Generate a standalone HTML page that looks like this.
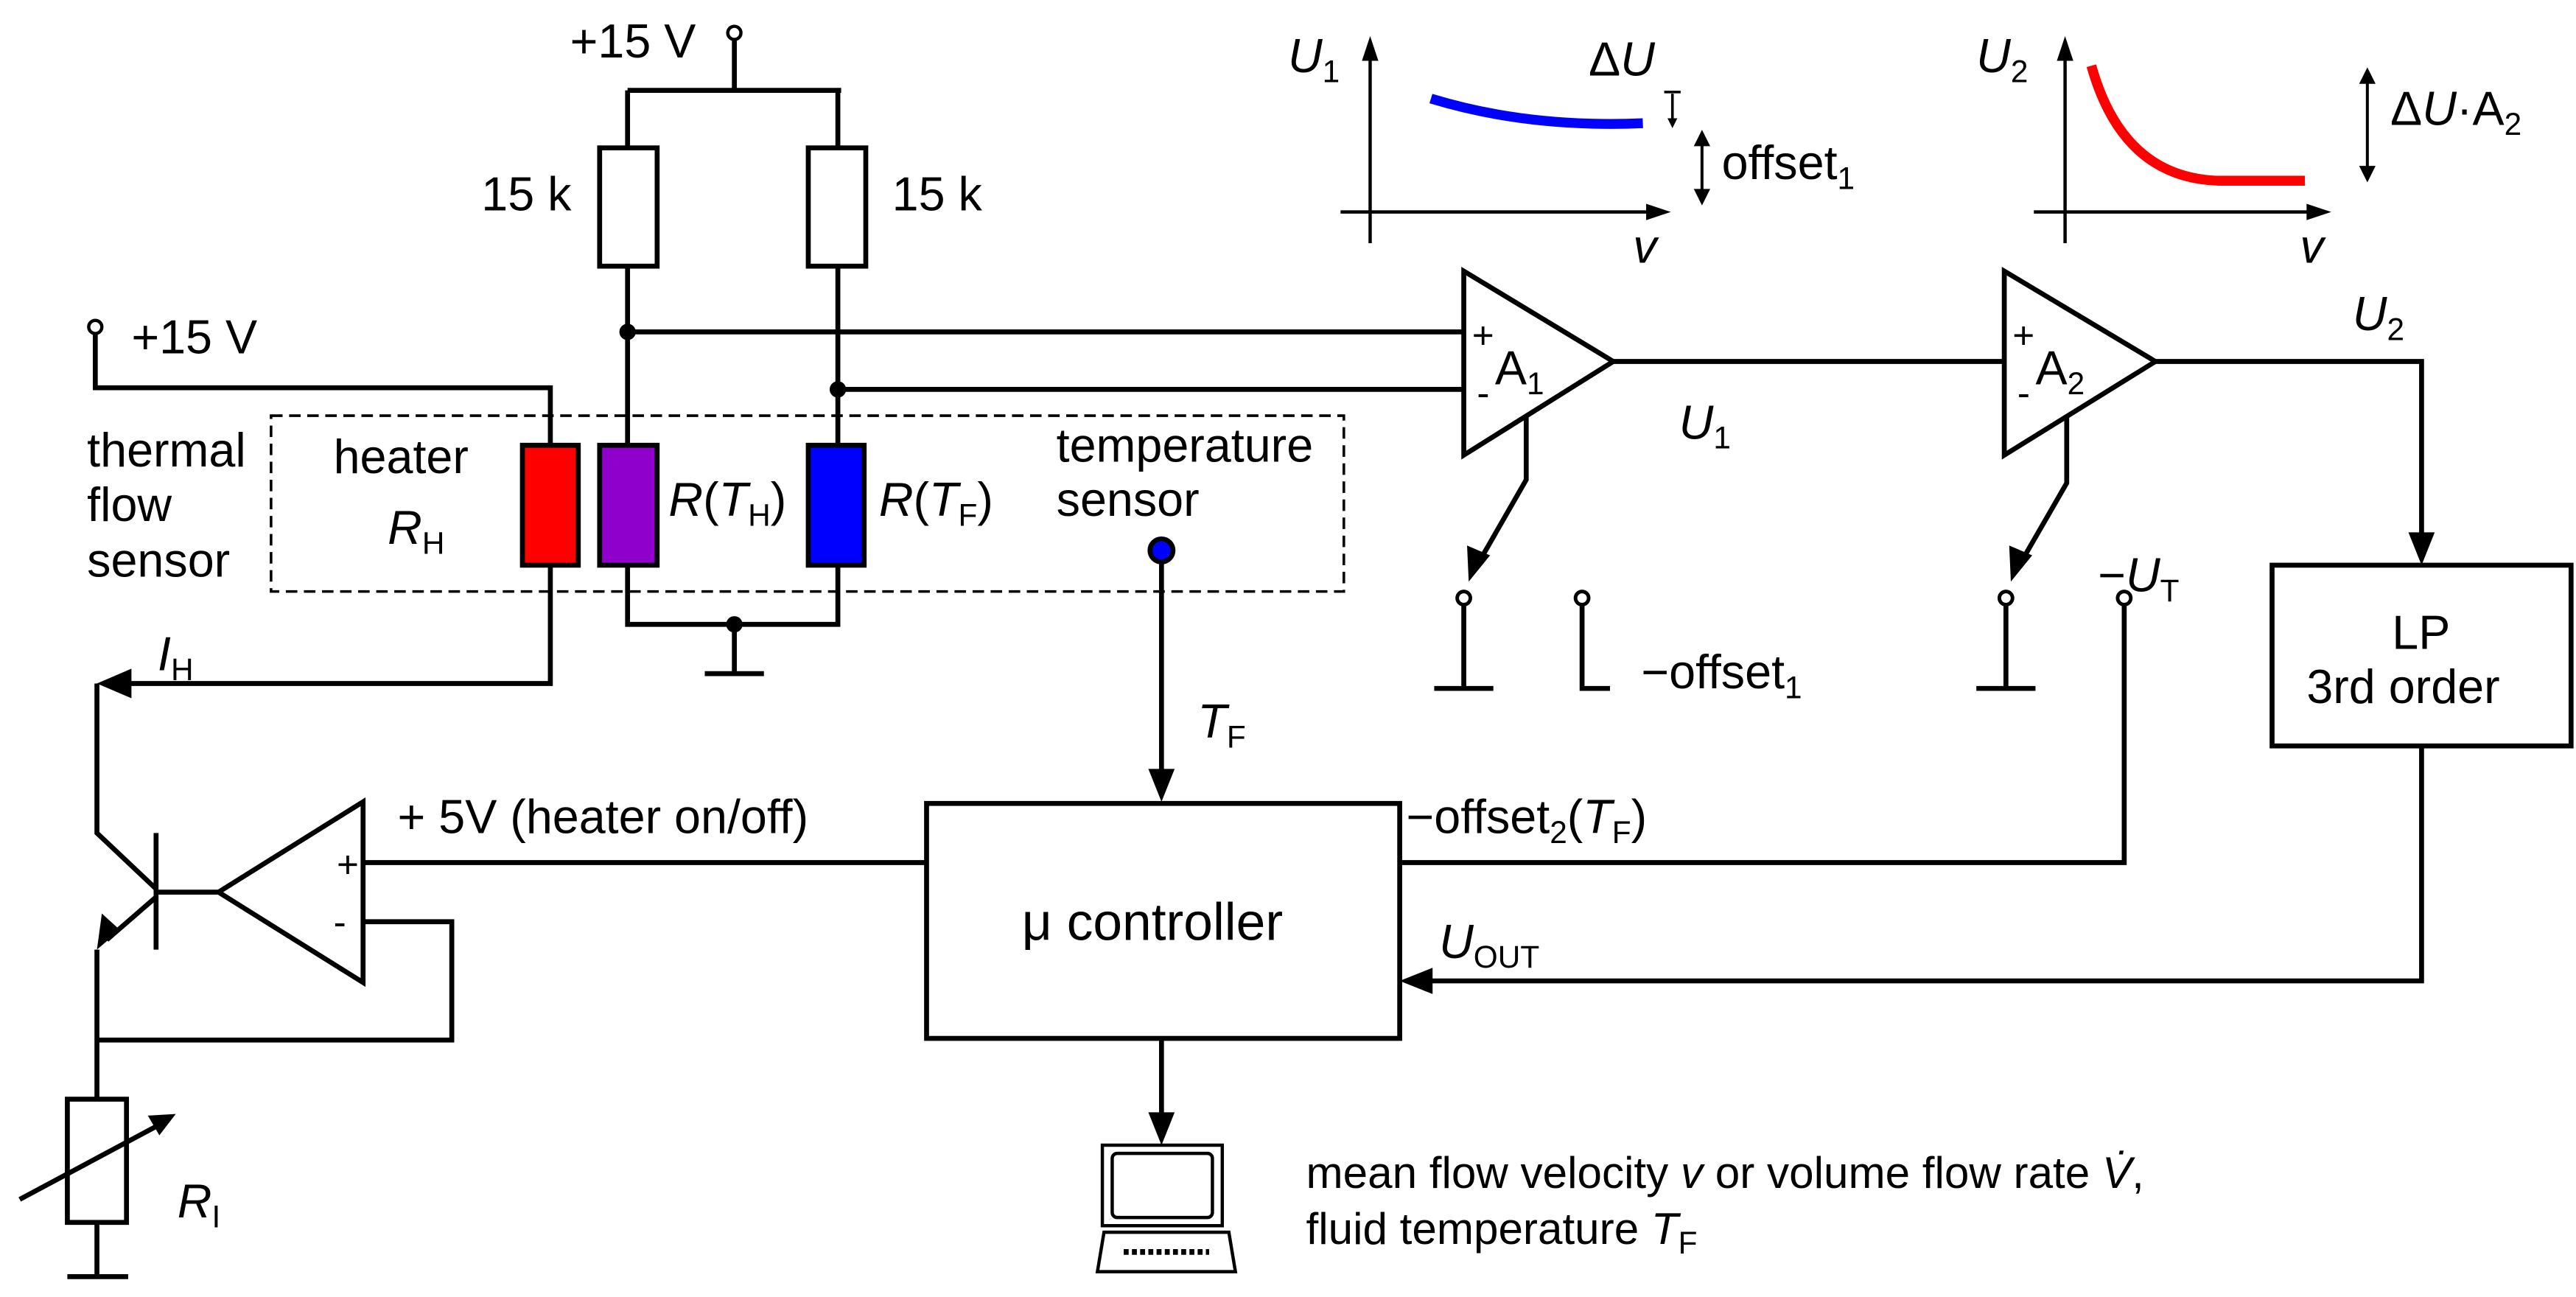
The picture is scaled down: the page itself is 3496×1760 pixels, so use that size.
<!DOCTYPE html>
<html><head><meta charset="utf-8"><style>
html,body{margin:0;padding:0;background:#fff}
svg{display:block}
text{font-family:"Liberation Sans",Arial,sans-serif;font-size:29px;fill:#000}
.i{font-style:italic}
.s{font-size:19px}
</style></head><body>
<svg width="3496" height="1760" viewBox="0 0 1568 789.4" preserveAspectRatio="none" xmlns="http://www.w3.org/2000/svg">
<g fill="none" stroke="#000" stroke-width="3">
<circle cx="447" cy="20" r="4" stroke-width="2"/>
<path d="M447 24 V55 M382 55 H512 M382 55 V90 M510 55 V90"/>
<rect x="365" y="90" width="35" height="72" fill="#fff"/>
<rect x="492" y="90" width="35" height="72" fill="#fff"/>
<path d="M382 162 V270 M510 162 V270"/>
<path d="M382 202 H891 M510 237 H891"/>
<circle cx="58" cy="199" r="4" stroke-width="2"/>
<path d="M58 203 V236 H335 V270"/>
<rect x="318" y="271" width="34" height="73" fill="#f00"/>
<rect x="365" y="271" width="35" height="73" fill="#9000cc"/>
<rect x="492" y="271" width="34" height="73" fill="#0000ff"/>
<rect x="165" y="253" width="653" height="107" stroke-width="1.6" stroke-dasharray="7,4"/>
<path d="M382 344 V380 H510 V344 M447 380 V410 M429 410 H465"/>
<circle cx="707" cy="335" r="7" fill="#0000ff"/>
<path d="M707 342 V478"/>
<path d="M335 344 V416 H68"/>
<path d="M59 416 V507 L95 541 M95 507 V578 M95 543 H133"/>
<path d="M95 546 L65 572 M59 578 V669"/>
<path d="M221 488 V598 L133 543 Z"/>
<path d="M221 525 H564 M221 561 H275 V633 H59"/>
<rect x="41" y="669" width="36" height="75"/>
<path d="M59 744 V777 M41 777 H78"/>
<path d="M12 730 L98 684"/>
<rect x="564" y="489" width="288" height="143"/>
<path d="M707 632 V686"/>
<rect x="671" y="697" width="73" height="49" stroke-width="2"/>
<rect x="677" y="702" width="61" height="39" rx="3" stroke-width="2"/>
<path d="M672 750 H748 L752 774 H668 Z" stroke-width="2"/>
<path d="M684 762 H736" stroke-width="3.5" stroke-dasharray="3,2"/>
<path d="M891 165 V277 L982 220 Z"/>
<path d="M982 220 H1220"/>
<path d="M1220 165 V277 L1312 220 Z"/>
<path d="M1312 220 H1474 V334"/>
<rect x="1383" y="344" width="182" height="110"/>
<path d="M1474 454 V597 H862"/>
<path d="M852 525 H1293 V368"/>
<path d="M929 254 V292 L898 346"/>
<path d="M1258 254 V294 L1228 346"/>
<circle cx="891" cy="364" r="4" stroke-width="2.2"/>
<circle cx="963" cy="364" r="4" stroke-width="2.2"/>
<circle cx="1221" cy="364" r="4" stroke-width="2.2"/>
<circle cx="1293" cy="364" r="4" stroke-width="2.2"/>
<path d="M891 368 V419 M873 419 H909"/>
<path d="M963 368 V419 H980"/>
<path d="M1221 368 V419 M1203 419 H1239"/>
<path d="M834 30 V148 M816 129 H1008" stroke-width="2"/>
<path d="M1257 30 V148 M1238 129 H1410" stroke-width="2"/>
<path d="M871 60 Q930 78 1000 75" stroke="#0000ff" stroke-width="6"/>
<path d="M1273 40 Q1292 108 1350 110 L1403 110" stroke="#f00" stroke-width="6"/>
<path d="M1018 57 V76 M1013 56 H1023" stroke-width="1.6"/>
<path d="M1036 86 V119" stroke-width="1.8"/>
<path d="M1441 48 V104" stroke-width="1.8"/>
</g>
<g fill="#000">
<circle cx="382" cy="202" r="5"/><circle cx="510" cy="237" r="5"/><circle cx="447" cy="380" r="5"/>
<polygon points="59,416 80,407 80,425"/>
<polygon points="59,578 62,556 73,566"/>
<polygon points="107,678 90,679 97,691"/>
<polygon points="707,488 699,468 715,468"/>
<polygon points="707,697 699,677 715,677"/>
<polygon points="1474,344 1466,324 1482,324"/>
<polygon points="852,597 872,589 872,605"/>
<polygon points="894,354 893,332 907,338"/>
<polygon points="1224,354 1223,332 1237,338"/>
<polygon points="834,22 829,37 839,37"/>
<polygon points="1017,129 1002,124 1002,134"/>
<polygon points="1257,22 1252,37 1262,37"/>
<polygon points="1419,129 1404,124 1404,134"/>
<polygon points="1036,79 1031,89 1041,89"/><polygon points="1036,125 1031,115 1041,115"/>
<polygon points="1441,41 1436,51 1446,51"/><polygon points="1441,111 1436,101 1446,101"/>
<polygon points="1018,78 1015,72 1021,72"/>
</g>
<text x="347" y="35">+15 V</text>
<text x="293" y="128">15 k</text>
<text x="543" y="128">15 k</text>
<text x="80" y="215">+15 V</text>
<text x="53" y="284">thermal</text>
<text x="53" y="317">flow</text>
<text x="53" y="351">sensor</text>
<text x="203" y="288">heater</text>
<text x="236" y="331"><tspan class="i">R</tspan><tspan class="s" dy="6">H</tspan></text>
<text x="407" y="314"><tspan class="i">R</tspan>(<tspan class="i">T</tspan><tspan class="s" dy="6">H</tspan><tspan dy="-6">)</tspan></text>
<text x="535" y="314"><tspan class="i">R</tspan>(<tspan class="i">T</tspan><tspan class="s" dy="6">F</tspan><tspan dy="-6">)</tspan></text>
<text x="643" y="281">temperature</text>
<text x="643" y="314">sensor</text>
<text x="96" y="408"><tspan class="i">I</tspan><tspan class="s" dy="6">H</tspan></text>
<text x="242" y="507">+ 5V (heater on/off)</text>
<text x="205" y="534" style="font-size:23px">+</text>
<text x="203" y="569" style="font-size:23px">-</text>
<text x="108" y="741"><tspan class="i">R</tspan><tspan class="s" dy="6">I</tspan></text>
<text x="729" y="449"><tspan class="i">T</tspan><tspan class="s" dy="6">F</tspan></text>
<text x="622" y="572" style="font-size:32px">μ controller</text>
<text x="856" y="507">−offset<tspan class="s" dy="6">2</tspan><tspan dy="-6">(</tspan><tspan class="i">T</tspan><tspan class="s" dy="6">F</tspan><tspan dy="-6">)</tspan></text>
<text x="876" y="583"><tspan class="i">U</tspan><tspan class="s" dy="6">OUT</tspan></text>
<text x="795" y="723" style="font-size:27px">mean flow velocity <tspan class="i">v</tspan> or volume flow rate <tspan class="i">V̇</tspan>,</text>
<text x="795" y="757" style="font-size:27px">fluid temperature <tspan class="i">T</tspan><tspan class="s" dy="6">F</tspan></text>
<text x="896" y="212" style="font-size:23px">+</text>
<text x="910" y="234">A<tspan class="s" dy="6">1</tspan></text>
<text x="899" y="247" style="font-size:23px">-</text>
<text x="1225" y="212" style="font-size:23px">+</text>
<text x="1239" y="234">A<tspan class="s" dy="6">2</tspan></text>
<text x="1228" y="247" style="font-size:23px">-</text>
<text x="1022" y="267"><tspan class="i">U</tspan><tspan class="s" dy="6">1</tspan></text>
<text x="1432" y="201"><tspan class="i">U</tspan><tspan class="s" dy="6">2</tspan></text>
<text x="1277" y="360">−<tspan class="i">U</tspan><tspan class="s" dy="6">T</tspan></text>
<text x="999" y="419">−offset<tspan class="s" dy="6">1</tspan></text>
<text x="1456" y="395">LP</text>
<text x="1404" y="428">3rd order</text>
<text x="784" y="44"><tspan class="i">U</tspan><tspan class="s" dy="6">1</tspan></text>
<text x="967" y="46">Δ<tspan class="i">U</tspan></text>
<text x="1048" y="109">offset<tspan class="s" dy="6">1</tspan></text>
<text x="994" y="160" class="i">v</text>
<text x="1203" y="44"><tspan class="i">U</tspan><tspan class="s" dy="6">2</tspan></text>
<text x="1455" y="76">Δ<tspan class="i">U</tspan>·A<tspan class="s" dy="6">2</tspan></text>
<text x="1400" y="160" class="i">v</text>
</svg>
</body></html>
